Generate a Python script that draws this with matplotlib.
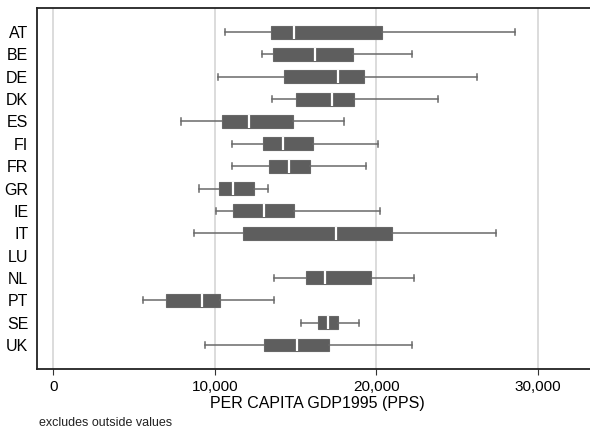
import matplotlib
matplotlib.use("Agg")
import matplotlib.pyplot as plt

plt.rcParams['font.family'] = ['Liberation Sans', 'DejaVu Sans']

# Per-country distribution of per capita GDP 1995 (PPS), outside values excluded
countries = ["AT", "BE", "DE", "DK", "ES", "FI", "FR", "GR", "IE", "IT", "LU", "NL", "PT", "SE", "UK"]
whisker_lo = [10600, 12900, 10200, 13560, 7920, 11090, 11090, 9030, 10100, 8700, None, 13690, 5540, 15310, 9380]
q1 =         [13480, 13580, 14260, 15000, 10470, 12990, 13340, 10270, 11130, 11770, None, 15650, 6990, 16360, 13070]
medians =    [14880, 16200, 17640, 17250, 12100, 14200, 14600, 11110, 13050, 17500, None, 16800, 9190, 17010, 15070]
q3 =         [20320, 18530, 19250, 18590, 14820, 16100, 15890, 12450, 14880, 20940, None, 19640, 10330, 17640, 17090]
whisker_hi = [28610, 22220, 26200, 23830, 18020, 20120, 19330, 13300, 20200, 27430, None, 22330, 13690, 18900, 22220]

xticks = [0, 10000, 20000, 30000]
xtick_labels = ["0", "10,000", "20,000", "30,000"]

fig = plt.figure(figsize=(5.9, 4.33), dpi=100)
# plot region runs off the right edge of the figure
ax = fig.add_axes([0.0622, 0.1478, 0.95, 0.8337])

box_color = "#5e5e5e"
line_color = "#6a6a6a"

stats, positions = [], []
for i, c in enumerate(countries):
    if medians[i] is None:
        continue
    stats.append(dict(whislo=whisker_lo[i], q1=q1[i], med=medians[i],
                      q3=q3[i], whishi=whisker_hi[i], fliers=[], label=c))
    positions.append(i)

ax.bxp(stats, positions=positions, vert=False, widths=0.57, patch_artist=True,
       showfliers=False,
       boxprops=dict(facecolor=box_color, edgecolor="#686868", linewidth=0.8),
       medianprops=dict(color="white", linewidth=1.6),
       whiskerprops=dict(color=line_color, linewidth=1.1),
       capprops=dict(color=line_color, linewidth=1.1),
       capwidths=0.27, zorder=3)

ax.set_yticks(range(len(countries)))
ax.set_yticklabels(countries, fontsize=11.5)
ax.set_ylim(len(countries) - 1 + 1.08, -1.08)
ax.tick_params(axis="y", length=0, pad=6)

ax.set_xlim(-1030, 33670)
ax.set_xticks(xticks)
ax.set_xticklabels(xtick_labels, fontsize=11)
ax.tick_params(axis="x", length=4, width=0.8, color="#333333", pad=4)
ax.xaxis.grid(True, color="#dcdcdc", linewidth=1.4, zorder=0)
ax.set_axisbelow(True)

for s in ["top", "left", "bottom"]:
    ax.spines[s].set_linewidth(1.3)
    ax.spines[s].set_color("#222222")
ax.spines["right"].set_visible(False)

ax.set_xlabel("PER CAPITA GDP1995 (PPS)", fontsize=11.5, labelpad=1)
fig.text(0.066, 0.016, "excludes outside values", fontsize=9, color="#222222")

fig.savefig("out.png", dpi=100)
